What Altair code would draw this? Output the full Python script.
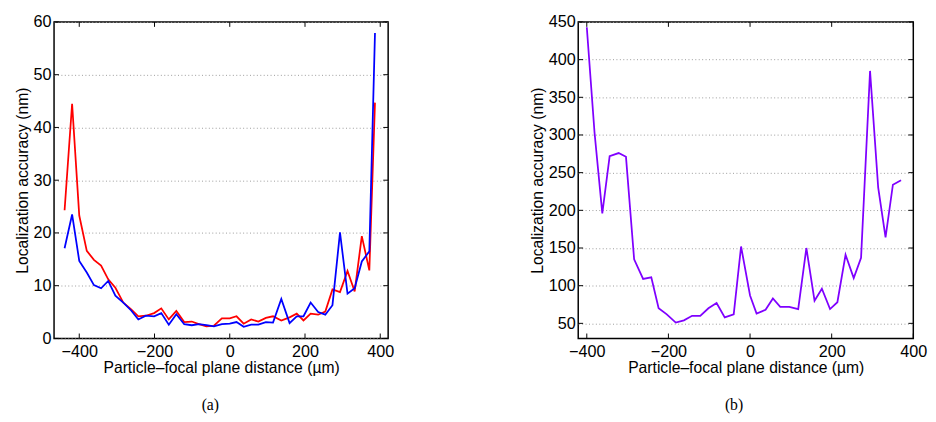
import altair as alt
import pandas as pd

# ---- data ----
a_x = [-439, -419, -400, -380, -361, -342, -323, -304, -283, -262,
       -243, -223, -201, -182, -162, -142, -121, -101, -82, -62,
       -42, -21, 0, 18, 37, 57, 76, 96, 115, 137,
       159, 178, 196, 215, 235, 254, 273, 293, 313, 332,
       351, 371, 386]
a_red = [24.3, 44.5, 23.3, 16.6, 14.9, 13.8, 11.2, 9.6, 6.8, 5.5,
         4.2, 4.3, 4.8, 5.7, 3.6, 5.2, 3.1, 3.2, 2.7, 2.3,
         2.4, 3.8, 3.8, 4.2, 2.8, 3.6, 3.2, 3.9, 4.2, 3.4,
         4.0, 4.7, 3.4, 4.7, 4.5, 5.1, 9.3, 8.8, 12.8, 8.9,
         19.4, 12.9, 44.7]
a_blue = [17.1, 23.5, 14.7, 12.5, 10.1, 9.5, 10.9, 8.1, 6.8, 5.3,
          3.6, 4.3, 4.2, 4.8, 2.6, 4.6, 2.7, 2.5, 2.7, 2.5,
          2.3, 2.7, 2.8, 3.1, 2.2, 2.6, 2.6, 3.1, 3.0, 7.5,
          2.9, 4.2, 4.2, 6.8, 5.0, 4.5, 6.3, 20.1, 8.5, 9.5,
          14.6, 16.5, 57.9]

b_x = [-400, -381, -362, -344, -322, -304, -284, -262, -242, -224,
       -204, -182, -162, -142, -122, -102, -82, -62, -40, -22,
       0, 16, 38, 56, 74, 96, 118, 138, 158, 176,
       196, 214, 234, 254, 272, 294, 314, 332, 350, 370]
b_y = [443, 303, 196, 272, 276, 271, 135, 109, 111, 70,
       62, 51, 54, 60, 60, 70, 77, 58, 62, 152,
       87, 63, 68, 83, 72, 72, 69, 150, 80, 96,
       69, 78, 141, 110, 137, 385, 230, 164, 234, 240]

x_ticks = [-400, -200, 0, 200, 400]
a_y_ticks = [0, 10, 20, 30, 40, 50, 60]
b_y_ticks = [50, 100, 150, 200, 250, 300, 350, 400, 450]

x_title = "Particle\u2013focal plane distance (\u00b5m)"
y_title = "Localization accuracy (nm)"

FONT = "Liberation Sans"
W_A, W_B, H = 341, 342, 323
TICK = 5


def panel(df, series_domain, series_colors, xdom, ydom, yticks, width, caption, cap_dx):
    xs = alt.Scale(domain=xdom, nice=False, zero=False)
    ys = alt.Scale(domain=ydom, nice=False, zero=False)
    x_axis = alt.Axis(values=x_ticks, title=x_title, grid=False, ticks=False,
                      domain=False, labelPadding=5, titlePadding=0,
                      labelFont=FONT, titleFont=FONT, labelFontSize=16.5,
                      titleFontSize=16, titleFontWeight="normal",
                      labelColor="black", titleColor="black", labelFlush=False)
    y_axis = alt.Axis(values=yticks, title=y_title, grid=True, ticks=False,
                      domain=False, gridColor="#9a9a9a", gridDash=[1, 2.5],
                      gridWidth=1, labelPadding=3, titlePadding=3,
                      labelFont=FONT, titleFont=FONT, labelFontSize=16.5,
                      titleFontSize=16, titleFontWeight="normal",
                      labelColor="black", titleColor="black", labelFlush=False)
    lines = alt.Chart(df).mark_line(strokeWidth=1.8, clip=True).encode(
        x=alt.X("x:Q", scale=xs, axis=x_axis),
        y=alt.Y("y:Q", scale=ys, axis=y_axis),
        color=alt.Color("series:N", scale=alt.Scale(domain=series_domain, range=series_colors), legend=None),
        order=alt.Order("idx:Q"),
        detail="series:N",
    )
    xt = pd.DataFrame({"x": x_ticks})
    yt = pd.DataFrame({"y": yticks})
    rx = alt.X("x:Q", scale=xs, axis=x_axis)
    ry = alt.Y("y:Q", scale=ys, axis=y_axis)
    top = alt.Chart(xt).mark_rule(color="black", strokeWidth=1).encode(
        x=rx, y=alt.value(0), y2=alt.value(TICK))
    bot = alt.Chart(xt).mark_rule(color="black", strokeWidth=1).encode(
        x=rx, y=alt.value(H - TICK), y2=alt.value(H))
    left = alt.Chart(yt).mark_rule(color="black", strokeWidth=1).encode(
        y=ry, x=alt.value(0), x2=alt.value(TICK))
    right = alt.Chart(yt).mark_rule(color="black", strokeWidth=1).encode(
        y=ry, x=alt.value(width - TICK), x2=alt.value(width))
    return alt.layer(lines, top, bot, left, right).properties(
        width=width, height=H,
        title=alt.TitleParams(caption, orient="bottom", font="Liberation Serif",
                              fontSize=16, fontWeight="normal", color="black",
                              offset=23, anchor="middle", dx=cap_dx),
    )


rows_a = []
for i, (xv, r, b) in enumerate(zip(a_x, a_red, a_blue)):
    rows_a.append({"x": xv, "y": r, "series": "red", "idx": i})
    rows_a.append({"x": xv, "y": b, "series": "blue", "idx": i})
df_a = pd.DataFrame(rows_a)
df_b = pd.DataFrame({"x": b_x, "y": b_y, "series": ["purple"] * len(b_x), "idx": list(range(len(b_x)))})

pa = panel(df_a, ["red", "blue"], ["#ff0000", "#0000ff"], [-467, 421], [0, 60], a_y_ticks, W_A, "(a)", -11)
pb = panel(df_b, ["purple"], ["#7f00ff"], [-421, 400], [30, 450], b_y_ticks, W_B, "(b)", -12)

chart = alt.hconcat(pa, pb, spacing=194, bounds="flush").resolve_scale(
    x="independent", y="independent", color="independent"
).properties(
    padding={"left": 5, "top": 1, "right": 0, "bottom": 0},
    background="white",
).configure_view(stroke="black", strokeWidth=1.5)

chart.save("out.html", embed_options={"renderer": "svg", "actions": False})
